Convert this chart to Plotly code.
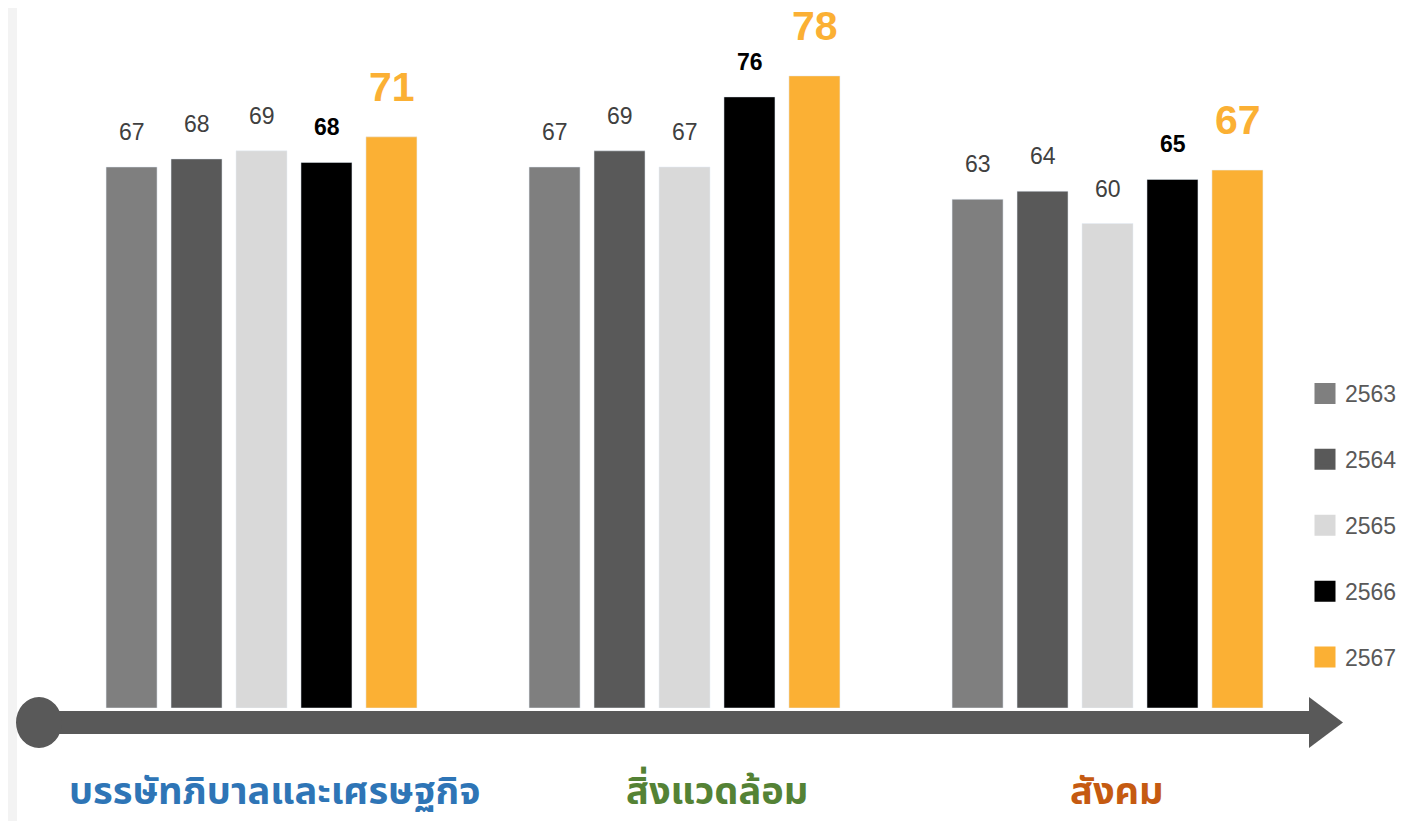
import plotly.graph_objects as go

categories = ["บรรษัทภิบาลและเศรษฐกิจ", "สิ่งแวดล้อม", "สังคม"]
years = ["2563", "2564", "2565", "2566", "2567"]
values_2563 = [67, 67, 63]
values_2564 = [68, 69, 64]
values_2565 = [69, 67, 60]
values_2566 = [67.56, 75.68, 65.46]
values_2567 = [70.73, 78.28, 66.61]
series = [values_2563, values_2564, values_2565, values_2566, values_2567]

bar_colors = ["#7F7F7F", "#595959", "#D9D9D9", "#000000", "#FBB034"]
label_colors = ["#404040", "#404040", "#404040", "#000000", "#FBB034"]
cat_colors = ["#2E75B6", "#548235", "#C55A11"]
cat_xshift = [13, 32, 9]

OFF = 8  # page body margin
W, H = 1419 - OFF, 821 - OFF
# plot area in page coordinates
L, R, T, B = 50, 1319, 62, 708


def px(x):
    return (x - L) / (R - L)


def py(y):
    return (B - y) / (B - T)


fig = go.Figure()
for i, (yr, vals) in enumerate(zip(years, series)):
    fig.add_trace(go.Bar(x=categories, y=vals, name=yr, marker_color=bar_colors[i],
                         showlegend=False, hovertemplate="%{x}<br>" + yr + ": %{y:.0f}<extra></extra>"))
# legend entries
for i, yr in enumerate(years):
    fig.add_trace(go.Scatter(x=[None], y=[None], mode="markers", name=yr,
                             legendgroup=yr,
                             marker=dict(symbol="square", size=16, color=bar_colors[i],
                                         line=dict(color=bar_colors[i], width=5))))

annotations = []
for i, vals in enumerate(series):
    big = i == 4
    for j, v in enumerate(vals):
        annotations.append(dict(
            x=categories[j], y=v, xref="x", yref="y", text=f"{v:.0f}", showarrow=False,
            xshift=(i - 2) * 65, yshift=50 if big else 35, yanchor="middle",
            font=dict(family="Liberation Sans, Arial, sans-serif",
                      size=41 if big else 23, color=label_colors[i],
                      weight="bold" if i >= 3 else "normal")))
for j, c in enumerate(categories):
    annotations.append(dict(
        x=c, y=py(792), xref="x", yref="paper", text="<b>" + c + "</b>", showarrow=False,
        xshift=cat_xshift[j], yanchor="middle",
        font=dict(family="Noto Sans Thai, Loma, Garuda, Kanit, sans-serif", size=38,
                  color=cat_colors[j])))

shapes = [
    dict(type="rect", xref="paper", yref="paper", x0=px(0), x1=px(17), y0=py(830), y1=py(0),
         fillcolor="#F3F3F3", line_width=0, layer="below"),
    dict(type="rect", xref="paper", yref="paper", x0=px(38), x1=px(1310), y0=py(734), y1=py(711),
         fillcolor="#595959", line_width=0),
    dict(type="circle", xref="paper", yref="paper", x0=px(16), x1=px(62), y0=py(748), y1=py(697),
         fillcolor="#595959", line_width=0),
    dict(type="path", xref="paper", yref="paper",
         path=f"M {px(1309)},{py(697)} L {px(1343)},{py(722.5)} L {px(1309)},{py(748)} Z",
         fillcolor="#595959", line_width=0),
]

fig.update_layout(
    width=W, height=H,
    margin=dict(l=L - OFF, r=1419 - R, t=T - OFF, b=821 - B),
    paper_bgcolor="white", plot_bgcolor="white",
    barmode="group", bargap=0.232, bargroupgap=0.215,
    xaxis=dict(type="category", range=[-0.5, 2.5], showticklabels=False, showline=False,
               showgrid=False, zeroline=False, fixedrange=True),
    yaxis=dict(range=[0, 80], visible=False, fixedrange=True),
    legend=dict(x=px(1305), xanchor="left", y=py(372), yanchor="top",
                tracegroupgap=33, bgcolor="rgba(0,0,0,0)",
                font=dict(family="Liberation Sans, Arial, sans-serif", size=23, color="#595959")),
    annotations=annotations,
    shapes=shapes,
    showlegend=True,
)

fig.write_html("out.html")
